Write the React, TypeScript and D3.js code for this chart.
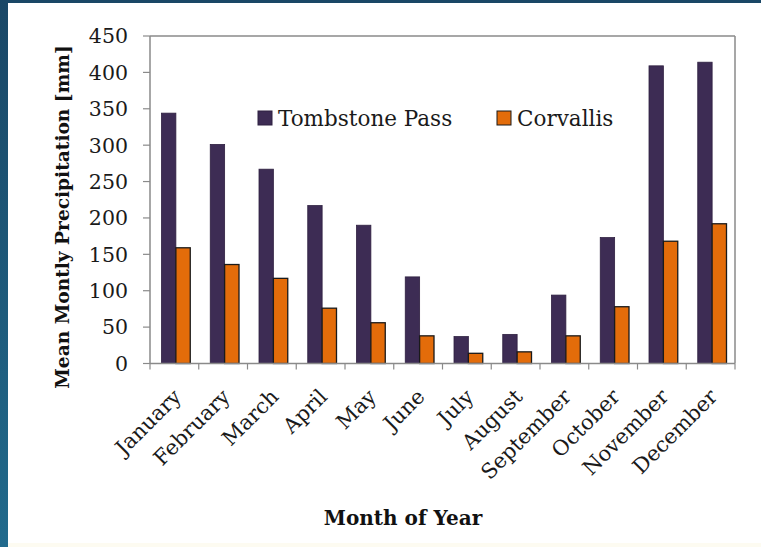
import React from "react";
import * as d3 from "d3";

const months = ["January","February","March","April","May","June","July","August","September","October","November","December"];
const tombstone = [344, 301, 267, 217, 190, 119, 37, 40, 94, 173, 409, 414];
const corvallis = [159, 136, 117, 76, 56, 38, 14, 16, 38, 78, 168, 192];
const yTicks = [0, 50, 100, 150, 200, 250, 300, 350, 400, 450];
const seriesNames = ["Tombstone Pass", "Corvallis"];
const seriesColors = ["#3d2c54", "#e36c0a"];
const seriesStrokes = ["#2e2040", "#1a1a1a"];

const W = 761, H = 547;
const left = 150, right = 735, top = 36, bottom = 363.5;
const FONT = "'DejaVu Serif', serif";

export default function App() {
  const x = d3.scaleBand<string>().domain(months).range([left, right]).paddingInner(0).paddingOuter(0);
  const bw = x.bandwidth();
  const xs = d3.scaleBand<string>().domain(seriesNames).range([11.5, bw - 8.5]).padding(0);
  const y = d3.scaleLinear().domain([0, 450]).range([bottom, top]);
  const data = [tombstone, corvallis];
  const axisColor = "#8a8a8a";

  return (
    <svg width={W} height={H} style={{ position: "fixed", left: 0, top: 0, display: "block", background: "#fff" }}>
      <defs>
        <linearGradient id="sideg" x1="0" y1="0" x2="0" y2="1">
          <stop offset="0" stopColor="#1a4766" />
          <stop offset="1" stopColor="#216a8c" />
        </linearGradient>
      </defs>
      <rect x={0} y={0} width={W} height={H} fill="#ffffff" />
      <rect x={0} y={0} width={W} height={3} fill="#1a4766" />
      <rect x={0} y={0} width={8} height={H} fill="url(#sideg)" />
      <rect x={8} y={543} width={W - 8} height={4} fill="#fdfbf1" />

      {/* plot frame */}
      <line x1={left} y1={top} x2={right} y2={top} stroke={axisColor} strokeWidth={1.5} />
      <line x1={right} y1={top} x2={right} y2={bottom} stroke={axisColor} strokeWidth={1.5} />

      {/* bars */}
      {data.map((arr, si) =>
        arr.map((v, i) => (
          <rect
            key={`${si}-${i}`}
            x={(x(months[i]) as number) + (xs(seriesNames[si]) as number)}
            y={y(v)}
            width={xs.bandwidth()}
            height={y(0) - y(v)}
            fill={seriesColors[si]}
            stroke={seriesStrokes[si]}
            strokeWidth={si === 1 ? 1.3 : 0.8}
          />
        ))
      )}

      {/* y axis */}
      <line x1={left} y1={top} x2={left} y2={bottom} stroke={axisColor} strokeWidth={1.5} />
      {yTicks.map((t) => (
        <g key={t}>
          <line x1={left - 7} x2={left} y1={y(t)} y2={y(t)} stroke={axisColor} strokeWidth={1.2} />
          <text x={128} y={y(t)} dy="0.36em" textAnchor="end" fontFamily={FONT} fontSize={20.5} fill="#1a1a1a">
            {t}
          </text>
        </g>
      ))}

      {/* x axis */}
      <line x1={left} y1={bottom} x2={right} y2={bottom} stroke={axisColor} strokeWidth={1.5} />
      {months.concat(["_end"]).map((m, i) => {
        const px = left + i * bw;
        return <line key={m} x1={px} x2={px} y1={bottom} y2={bottom + 6} stroke={axisColor} strokeWidth={1.2} />;
      })}
      {months.map((m) => {
        const cx = (x(m) as number) + bw / 2 + 8;
        const cy = 398;
        return (
          <text
            key={m}
            transform={`translate(${cx},${cy}) rotate(-45)`}
            textAnchor="end"
            fontFamily={FONT}
            fontSize={21}
            fill="#1a1a1a"
          >
            {m}
          </text>
        );
      })}

      {/* axis titles */}
      <text
        transform={`translate(69,217) rotate(-90)`}
        textAnchor="middle"
        fontFamily={FONT}
        fontWeight="bold"
        fontSize={18.6}
        fill="#111"
      >
        Mean Montly Precipitation [mm]
      </text>
      <text x={403} y={525} textAnchor="middle" fontFamily={FONT} fontWeight="bold" fontSize={20} fill="#111">
        Month of Year
      </text>

      {/* legend */}
      {seriesNames.map((s, i) => {
        const lx = i === 0 ? 258 : 497;
        return (
          <g key={s}>
            <rect x={lx} y={111} width={14} height={14} fill={seriesColors[i]} stroke={seriesStrokes[i]} strokeWidth={1} />
            <text x={lx + 20} y={126} fontFamily={FONT} fontSize={21.5} fill="#1a1a1a">
              {s}
            </text>
          </g>
        );
      })}
    </svg>
  );
}
